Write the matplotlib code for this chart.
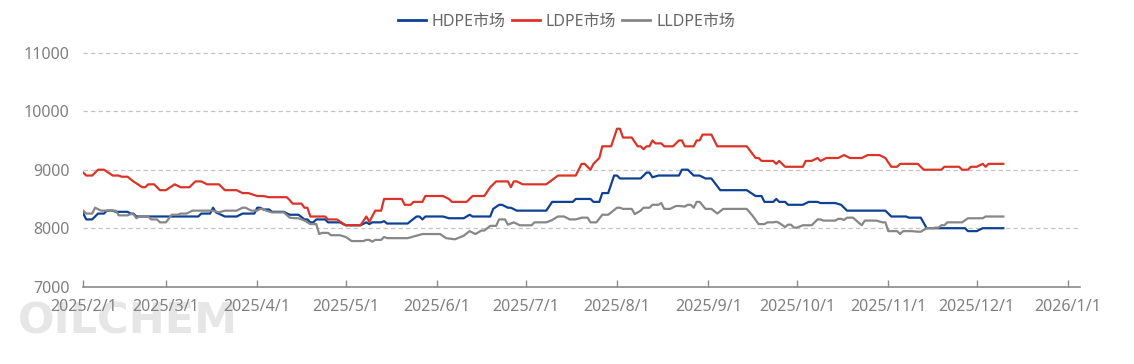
import matplotlib
matplotlib.use('Agg')
import matplotlib.pyplot as plt
import matplotlib.dates as mdates
import pandas as pd

plt.rcParams['font.family'] = ['Noto Sans', 'Noto Sans CJK SC', 'DejaVu Sans']

# ---------------- data ----------------
series_names = ['HDPE市场', 'LDPE市场', 'LLDPE市场']
series_colors = ['#0e4194', '#dc3328', '#878787']

hdpe_dates = ['02-01', '02-02', '02-04', '02-06', '02-08', '02-09', '02-11', '02-12', '02-16', '02-17',
              '02-18', '02-19', '03-12', '03-13', '03-16', '03-17', '03-18', '03-21', '03-25', '03-27',
              '03-31', '04-01', '04-02', '04-03', '04-05', '04-06', '04-10', '04-12', '04-15', '04-16',
              '04-17', '04-18', '04-19', '04-20', '04-21', '04-24', '04-25', '04-29', '05-01', '05-06',
              '05-08', '05-09', '05-10', '05-13', '05-14', '05-15', '05-22', '05-25', '05-26', '05-27',
              '05-28', '06-03', '06-05', '06-10', '06-12', '06-13', '06-19', '06-20', '06-22', '06-23',
              '06-25', '06-26', '06-28', '07-08', '07-10', '07-17', '07-18', '07-23', '07-24', '07-26',
              '07-27', '07-29', '07-31', '08-01', '08-02', '08-09', '08-11', '08-12', '08-13', '08-15',
              '08-22', '08-23', '08-25', '08-27', '08-29', '08-31', '09-02', '09-05', '09-14', '09-17',
              '09-19', '09-20', '09-23', '09-24', '09-25', '09-27', '09-28', '10-03', '10-05', '10-08',
              '10-09', '10-14', '10-16', '10-18', '10-31', '11-02', '11-07', '11-08', '11-12', '11-13',
              '11-14', '11-27', '11-28', '12-01', '12-03', '12-10']
hdpe_values = [8250, 8150, 8150, 8250, 8250, 8300, 8300, 8280, 8280, 8250,
               8250, 8200, 8200, 8250, 8250, 8350, 8270, 8200, 8200, 8250,
               8250, 8350, 8350, 8320, 8320, 8280, 8280, 8230, 8230, 8190,
               8150, 8150, 8100, 8100, 8150, 8150, 8100, 8100, 8050, 8050,
               8100, 8070, 8100, 8100, 8120, 8080, 8080, 8200, 8200, 8150,
               8200, 8200, 8170, 8170, 8230, 8200, 8200, 8330, 8400, 8400,
               8350, 8350, 8300, 8300, 8450, 8450, 8500, 8500, 8450, 8450,
               8600, 8600, 8900, 8900, 8850, 8850, 8950, 8950, 8870, 8900,
               8900, 9000, 9000, 8900, 8900, 8850, 8850, 8650, 8650, 8550,
               8550, 8450, 8450, 8500, 8450, 8450, 8400, 8400, 8450, 8450,
               8430, 8430, 8400, 8300, 8300, 8200, 8200, 8180, 8180, 8090,
               8000, 8000, 7950, 7950, 8000, 8000]

ldpe_dates = ['02-01', '02-02', '02-04', '02-06', '02-08', '02-11', '02-13', '02-14', '02-16', '02-18',
              '02-21', '02-22', '02-23', '02-25', '02-27', '03-01', '03-04', '03-06', '03-09', '03-11',
              '03-13', '03-15', '03-19', '03-21', '03-25', '03-27', '03-29', '04-01', '04-03', '04-05',
              '04-11', '04-12', '04-13', '04-16', '04-17', '04-18', '04-19', '04-24', '04-25', '04-28',
              '05-01', '05-06', '05-08', '05-09', '05-11', '05-13', '05-14', '05-20', '05-21', '05-23',
              '05-24', '05-27', '05-28', '06-03', '06-05', '06-06', '06-11', '06-13', '06-17', '06-19',
              '06-21', '06-25', '06-26', '06-27', '06-28', '06-30', '07-08', '07-12', '07-18', '07-20',
              '07-21', '07-23', '07-24', '07-26', '07-27', '07-30', '08-01', '08-02', '08-03', '08-06',
              '08-08', '08-09', '08-10', '08-11', '08-12', '08-13', '08-14', '08-16', '08-17', '08-20',
              '08-22', '08-23', '08-24', '08-27', '08-28', '08-29', '08-30', '09-02', '09-04', '09-14',
              '09-17', '09-18', '09-19', '09-23', '09-24', '09-25', '09-27', '10-03', '10-04', '10-06',
              '10-08', '10-09', '10-11', '10-15', '10-17', '10-19', '10-23', '10-25', '10-29', '10-31',
              '11-02', '11-04', '11-05', '11-11', '11-13', '11-19', '11-20', '11-25', '11-26', '11-28',
              '11-29', '12-01', '12-03', '12-04', '12-05', '12-10']
ldpe_values = [8950, 8900, 8900, 9000, 9000, 8900, 8900, 8880, 8880, 8800,
               8700, 8700, 8750, 8750, 8650, 8650, 8750, 8700, 8700, 8800,
               8800, 8750, 8750, 8650, 8650, 8600, 8600, 8550, 8550, 8530,
               8530, 8480, 8420, 8420, 8350, 8350, 8200, 8200, 8150, 8150,
               8050, 8050, 8200, 8110, 8300, 8300, 8500, 8500, 8400, 8400,
               8450, 8450, 8550, 8550, 8500, 8450, 8450, 8550, 8550, 8700,
               8800, 8800, 8700, 8800, 8800, 8750, 8750, 8900, 8900, 9100,
               9100, 9000, 9100, 9200, 9400, 9400, 9700, 9700, 9550, 9550,
               9400, 9400, 9350, 9400, 9400, 9500, 9450, 9450, 9400, 9400,
               9500, 9500, 9400, 9400, 9500, 9500, 9600, 9600, 9400, 9400,
               9200, 9200, 9150, 9150, 9100, 9150, 9050, 9050, 9150, 9150,
               9200, 9150, 9200, 9200, 9250, 9200, 9200, 9250, 9250, 9200,
               9050, 9050, 9100, 9100, 9000, 9000, 9050, 9050, 9000, 9000,
               9050, 9050, 9100, 9050, 9100, 9100]

lldpe_dates = ['02-01', '02-02', '02-04', '02-05', '02-07', '02-12', '02-13', '02-16', '02-17', '02-18',
               '02-19', '02-20', '02-23', '02-24', '02-26', '02-27', '03-01', '03-03', '03-05', '03-06',
               '03-08', '03-10', '03-17', '03-19', '03-21', '03-25', '03-27', '03-28', '03-30', '04-01',
               '04-02', '04-03', '04-04', '04-06', '04-10', '04-12', '04-14', '04-15', '04-17', '04-19',
               '04-21', '04-22', '04-23', '04-25', '04-26', '04-29', '05-01', '05-03', '05-07', '05-08',
               '05-09', '05-10', '05-11', '05-13', '05-14', '05-15', '05-22', '05-27', '06-02', '06-04',
               '06-07', '06-10', '06-12', '06-14', '06-16', '06-17', '06-19', '06-21', '06-22', '06-24',
               '06-25', '06-27', '06-29', '07-03', '07-04', '07-08', '07-10', '07-12', '07-14', '07-16',
               '07-18', '07-20', '07-22', '07-23', '07-25', '07-27', '07-29', '08-01', '08-02', '08-03',
               '08-06', '08-07', '08-09', '08-10', '08-12', '08-13', '08-15', '08-16', '08-17', '08-19',
               '08-21', '08-22', '08-24', '08-25', '08-26', '08-27', '08-28', '08-29', '08-31', '09-02',
               '09-04', '09-06', '09-14', '09-16', '09-18', '09-20', '09-21', '09-23', '09-24', '09-25',
               '09-27', '09-28', '09-29', '09-30', '10-01', '10-03', '10-06', '10-08', '10-09', '10-10',
               '10-14', '10-15', '10-16', '10-17', '10-18', '10-20', '10-23', '10-24', '10-28', '10-30',
               '10-31', '11-01', '11-04', '11-05', '11-06', '11-09', '11-11', '11-12', '11-14', '11-16',
               '11-17', '11-18', '11-19', '11-20', '11-21', '11-26', '11-28', '12-03', '12-04', '12-10']
lldpe_values = [8300, 8250, 8250, 8350, 8300, 8300, 8220, 8220, 8240, 8240,
                8170, 8200, 8200, 8150, 8150, 8100, 8100, 8230, 8230, 8250,
                8250, 8300, 8300, 8270, 8300, 8300, 8350, 8350, 8300, 8300,
                8330, 8330, 8300, 8270, 8270, 8180, 8170, 8170, 8130, 8070,
                8070, 7900, 7920, 7920, 7880, 7880, 7850, 7780, 7780, 7800,
                7800, 7770, 7800, 7800, 7850, 7830, 7830, 7900, 7900, 7830,
                7810, 7870, 7950, 7900, 7960, 7960, 8040, 8040, 8150, 8150,
                8060, 8100, 8050, 8050, 8100, 8100, 8140, 8200, 8200, 8150,
                8150, 8180, 8180, 8100, 8100, 8230, 8230, 8350, 8350, 8330,
                8330, 8240, 8300, 8350, 8350, 8400, 8400, 8430, 8330, 8330,
                8380, 8380, 8370, 8400, 8400, 8350, 8450, 8450, 8330, 8330,
                8250, 8330, 8330, 8210, 8070, 8070, 8100, 8100, 8110, 8090,
                8020, 8060, 8060, 8010, 8010, 8050, 8050, 8150, 8150, 8130,
                8130, 8160, 8160, 8140, 8180, 8180, 8050, 8130, 8130, 8100,
                8100, 7950, 7950, 7900, 7950, 7950, 7940, 7940, 8000, 8000,
                8010, 8010, 8050, 8050, 8100, 8100, 8170, 8170, 8200, 8200]

x_tick_dates = ['2025-02-01', '2025-03-01', '2025-04-01', '2025-05-01', '2025-06-01', '2025-07-01',
                '2025-08-01', '2025-09-01', '2025-10-01', '2025-11-01', '2025-12-01', '2026-01-01']
y_ticks = [7000, 8000, 9000, 10000, 11000]


def to_dates(md):
    return pd.to_datetime(['2025-' + s for s in md])


# ---------------- figure ----------------
W, H = 1134, 364
fig = plt.figure(figsize=(W / 100, H / 100), dpi=100)
fig.patch.set_facecolor('white')

# watermark
fig.text(18 / W, 1 - 333 / H, 'OILCHEM', fontsize=31, fontweight='bold',
         color='#e6e6e6', family='DejaVu Sans', zorder=-5, va='baseline', ha='left')

ax = fig.add_axes([83.3 / W, 1 - 286.7 / H, (1080 - 83.3) / W, (286.7 - 52.7) / H])
ax.patch.set_alpha(0)

all_series = [(hdpe_dates, hdpe_values), (ldpe_dates, ldpe_values), (lldpe_dates, lldpe_values)]
for (d, v), name, col in zip(all_series, series_names, series_colors):
    ax.plot(to_dates(d), v, color=col, lw=1.6, label=name, solid_joinstyle='round')

ax.set_ylim(7000, 11000)
ax.set_xlim(pd.Timestamp('2025-02-01'), pd.Timestamp('2026-01-05'))

ax.set_yticks(y_ticks)
ax.set_yticklabels([str(v) for v in y_ticks])
tick_dt = pd.to_datetime(x_tick_dates)
ax.set_xticks(tick_dt)
ax.set_xticklabels([f'{t.year}/{t.month}/{t.day}' for t in tick_dt])

for yv in y_ticks[1:]:
    ax.axhline(yv, color='#c4c4c4', lw=0.9, ls=(0, (3.5, 2.5)), clip_on=False, zorder=0)

for s in ['top', 'right', 'left']:
    ax.spines[s].set_visible(False)
ax.spines['bottom'].set_color('#8a8a8a')
ax.spines['bottom'].set_linewidth(1.2)

ax.tick_params(axis='x', direction='in', length=5, width=1, color='#8a8a8a',
               labelsize=11.5, labelcolor='#808080', pad=9)
ax.tick_params(axis='y', length=0, labelsize=11.5, labelcolor='#808080', pad=10)

leg = fig.legend(loc='center', bbox_to_anchor=(566.5 / W, 1 - 22 / H), ncol=3, frameon=False,
                 fontsize=11.5, handlelength=1.75, handletextpad=0.35, columnspacing=0.4,
                 labelcolor='#666666')
for lh in leg.get_lines():
    lh.set_linewidth(2)

fig.savefig('out.png', dpi=100)
